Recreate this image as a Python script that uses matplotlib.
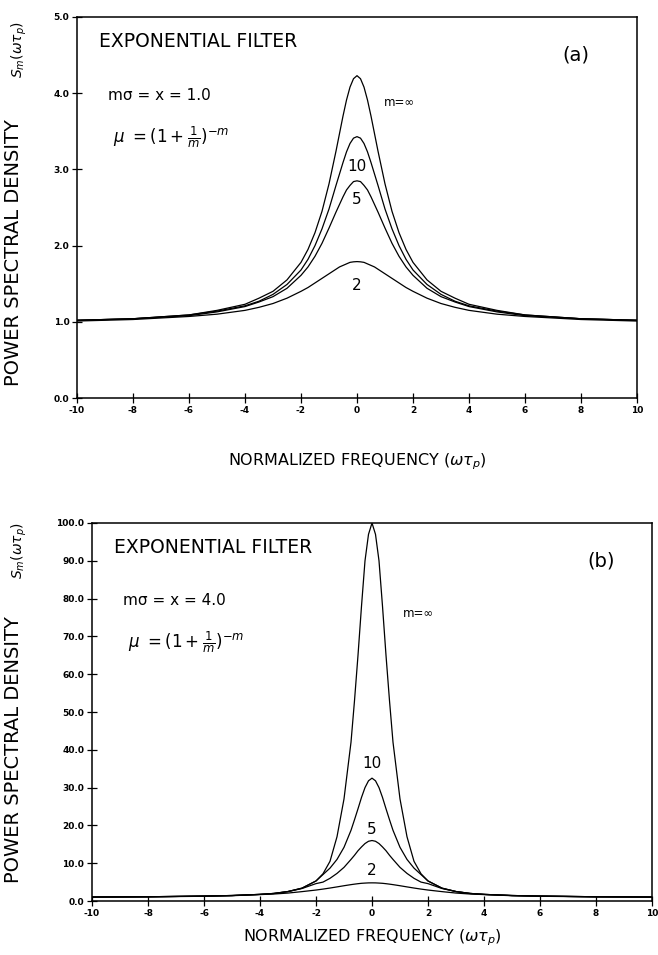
from matplotlib import pyplot as plt

# normalized frequency samples
freq = [-10, -8, -6, -5, -4, -3.5, -3, -2.5, -2, -1.75, -1.5, -1.25, -1, -0.75, -0.625, -0.5, -0.375, -0.25, -0.125,
        0, 0.125, 0.25, 0.375, 0.5, 0.625, 0.75, 1, 1.25, 1.5, 1.75, 2, 2.5, 3, 3.5, 4, 5, 6, 8, 10]

# panel (a), x = 1.0
a_inf = [1.02, 1.04, 1.09, 1.15, 1.23, 1.31, 1.40, 1.55, 1.78, 1.95, 2.17, 2.45, 2.81, 3.24, 3.47, 3.70, 3.91, 4.08, 4.19,
         4.23, 4.19, 4.08, 3.91, 3.70, 3.47, 3.24, 2.81, 2.45, 2.17, 1.95, 1.78, 1.55, 1.40, 1.31, 1.23, 1.15, 1.09, 1.04, 1.02]
a_10 = [1.02, 1.04, 1.09, 1.14, 1.21, 1.27, 1.36, 1.49, 1.68, 1.82, 2.00, 2.22, 2.48, 2.79, 2.94, 3.09, 3.23, 3.34, 3.41,
        3.43, 3.41, 3.34, 3.23, 3.09, 2.94, 2.79, 2.48, 2.22, 2.00, 1.82, 1.68, 1.49, 1.36, 1.27, 1.21, 1.14, 1.09, 1.04, 1.02]
a_5 = [1.02, 1.04, 1.08, 1.13, 1.20, 1.26, 1.33, 1.44, 1.61, 1.72, 1.86, 2.03, 2.23, 2.44, 2.54, 2.64, 2.73, 2.79, 2.84,
       2.85, 2.84, 2.79, 2.73, 2.64, 2.54, 2.44, 2.23, 2.03, 1.86, 1.72, 1.61, 1.44, 1.33, 1.26, 1.20, 1.13, 1.08, 1.04, 1.02]
a_2 = [1.01, 1.03, 1.07, 1.10, 1.15, 1.19, 1.24, 1.31, 1.40, 1.45, 1.51, 1.57, 1.63, 1.69, 1.72, 1.74, 1.76, 1.78, 1.787,
       1.79, 1.787, 1.78, 1.76, 1.74, 1.72, 1.69, 1.63, 1.57, 1.51, 1.45, 1.40, 1.31, 1.24, 1.19, 1.15, 1.10, 1.07, 1.03, 1.01]

# panel (b), x = 4.0
b_inf = [1.05, 1.12, 1.3, 1.45, 1.75, 2.0, 2.5, 3.4, 5.3, 7.2, 10.5, 17, 27, 42, 53, 65, 78, 90, 97,
         100, 97, 90, 78, 65, 53, 42, 27, 17, 10.5, 7.2, 5.3, 3.4, 2.5, 2.0, 1.75, 1.45, 1.3, 1.12, 1.05]
b_10 = [1.05, 1.12, 1.3, 1.45, 1.75, 2.0, 2.5, 3.4, 5.3, 7.0, 8.7, 11.0, 14.2, 18.7, 21.5, 24.4, 27.4, 30.0, 31.8,
        32.5, 31.8, 30.0, 27.4, 24.4, 21.5, 18.7, 14.2, 11.0, 8.7, 7.0, 5.3, 3.4, 2.5, 2.0, 1.75, 1.45, 1.3, 1.12, 1.05]
b_5 = [1.05, 1.12, 1.3, 1.45, 1.75, 2.0, 2.5, 3.3, 4.6, 5.0, 6.0, 7.3, 8.9, 11.0, 12.1, 13.3, 14.3, 15.2, 15.8,
       16.0, 15.8, 15.2, 14.3, 13.3, 12.1, 11.0, 8.9, 7.3, 6.0, 5.0, 4.6, 3.3, 2.5, 2.0, 1.75, 1.45, 1.3, 1.12, 1.05]
b_2 = [1.05, 1.1, 1.25, 1.4, 1.7, 1.85, 2.1, 2.48, 2.9, 3.15, 3.43, 3.73, 4.04, 4.33, 4.46, 4.58, 4.68, 4.74, 4.79,
       4.8, 4.79, 4.74, 4.68, 4.58, 4.46, 4.33, 4.04, 3.73, 3.43, 3.15, 2.9, 2.48, 2.1, 1.85, 1.7, 1.4, 1.25, 1.1, 1.05]

x_ticks = [-10, -8, -6, -4, -2, 0, 2, 4, 6, 8, 10]
a_yticks = [0, 1, 2, 3, 4, 5]
b_yticks = [0, 10, 20, 30, 40, 50, 60, 70, 80, 90, 100]

W, H = 658, 955
plt.rcParams['mathtext.fontset'] = 'dejavusans'
fig = plt.figure(figsize=(W / 100, H / 100), dpi=100)


def px(x0, y0, x1, y1):
    return [x0 / W, 1 - y1 / H, (x1 - x0) / W, (y1 - y0) / H]


def panel(rect, curves, yticks, ymax, xval, tag, tag_x, lab_pos):
    ax = fig.add_axes(rect)
    for c in curves:
        ax.plot(freq, c, color='black', lw=0.9)
    ax.set_xlim(-10, 10)
    ax.set_ylim(0, ymax)
    ax.set_xticks(x_ticks)
    ax.set_xticklabels([str(t) for t in x_ticks])
    ax.set_yticks(yticks)
    ax.set_yticklabels(['%.1f' % t for t in yticks])
    ax.tick_params(direction='inout', length=7, width=0.9, labelsize=6.5, pad=2)
    for lb in ax.get_xticklabels() + ax.get_yticklabels():
        lb.set_fontweight('bold')
    for s in ax.spines.values():
        s.set_linewidth(1.1)

    tr = ax.transAxes
    ax.text(0.04, 0.935, 'EXPONENTIAL FILTER', transform=tr, fontsize=13.5, va='center')
    ax.text(0.055, 0.795, 'mσ = x = %s' % xval, transform=tr, fontsize=11, va='center')
    ax.text(0.065, 0.685, r'$\mu\ = (1+\frac{1}{m})^{-m}$', transform=tr, fontsize=12, va='center')
    ax.text(tag_x, 0.9, tag, transform=tr, fontsize=14, ha='center', va='center')

    for txt, (lx, ly), fs in zip(['m=∞', '10', '5', '2'], lab_pos, [8.5, 11, 11, 11]):
        ax.text(lx, ly, txt, fontsize=fs, ha='center', va='center')
    return ax


ax1 = panel(px(77, 17, 637, 398), [a_inf, a_10, a_5, a_2], a_yticks, 5.0, '1.0', '(a)', 0.89,
            [(1.5, 3.88), (0, 3.04), (0, 2.60), (0, 1.48)])
ax2 = panel(px(92, 523, 652, 901), [b_inf, b_10, b_5, b_2], b_yticks, 100.0, '4.0', '(b)', 0.91,
            [(1.65, 76), (0, 36.5), (0, 19), (0, 8)])

for ax, yc in [(ax1, 462), (ax2, 938)]:
    bb = ax.get_position()
    fig.text(bb.x0 + bb.width / 2, 1 - yc / H, r'NORMALIZED FREQUENCY ($\omega\tau_p$)',
             fontsize=11.5, ha='center', va='center')

for yc, ys in [(253, 50), (750, 551)]:
    fig.text(14 / W, 1 - yc / H, 'POWER SPECTRAL DENSITY', rotation=90, fontsize=14,
             ha='center', va='center')
    fig.text(19 / W, 1 - ys / H, r'$S_m(\omega\tau_p)$', rotation=90, fontsize=10,
             ha='center', va='center')

fig.savefig('out.png', dpi=100)
